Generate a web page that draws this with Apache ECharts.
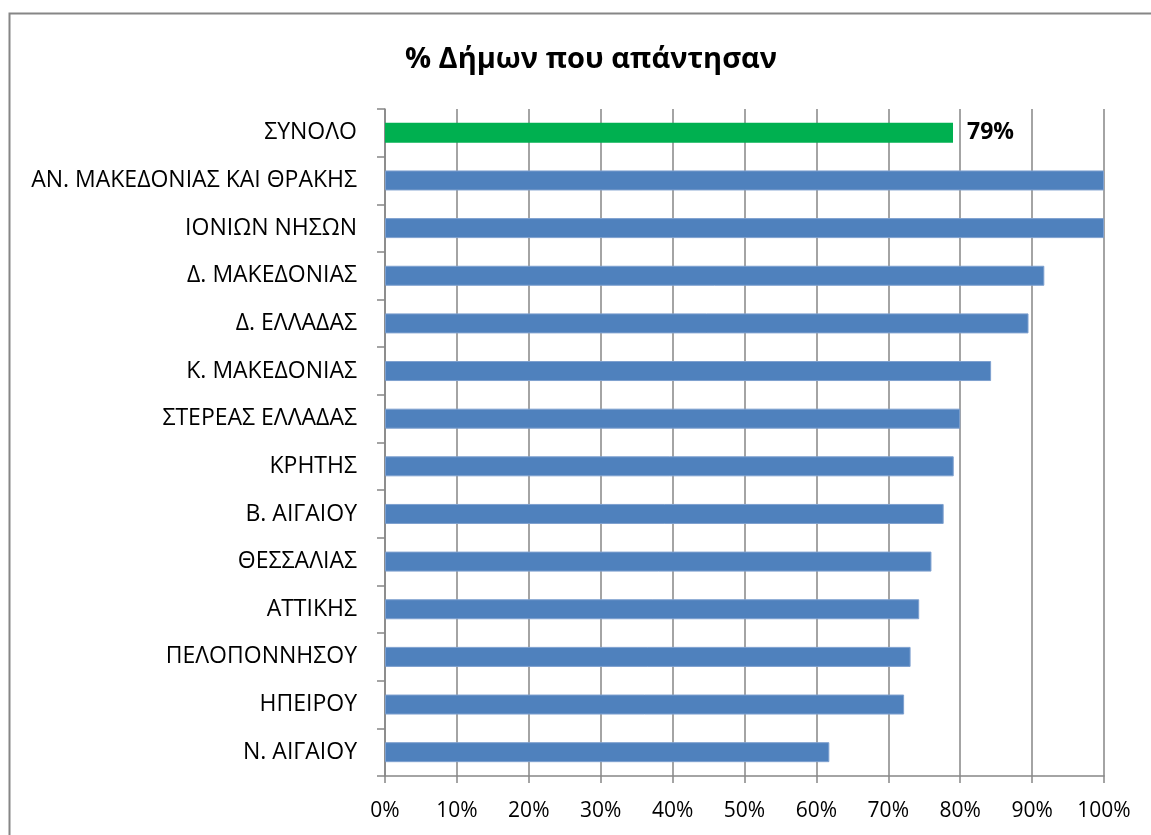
<!DOCTYPE html>
<html>
<head>
<meta charset="utf-8">
<script src="https://cdn.jsdelivr.net/npm/echarts@6/dist/echarts.min.js"></script>
<style>
html,body{margin:0;padding:0;background:#fff;}
#chart{width:1151px;height:835px;}
</style>
</head>
<body>
<div id="chart"></div>
<script>
const titleText = '% Δήμων που απάντησαν';
const categories = [
  'ΣΥΝΟΛΟ',
  'ΑΝ. ΜΑΚΕΔΟΝΙΑΣ ΚΑΙ ΘΡΑΚΗΣ',
  'ΙΟΝΙΩΝ ΝΗΣΩΝ',
  'Δ. ΜΑΚΕΔΟΝΙΑΣ',
  'Δ. ΕΛΛΑΔΑΣ',
  'Κ. ΜΑΚΕΔΟΝΙΑΣ',
  'ΣΤΕΡΕΑΣ ΕΛΛΑΔΑΣ',
  'ΚΡΗΤΗΣ',
  'Β. ΑΙΓΑΙΟΥ',
  'ΘΕΣΣΑΛΙΑΣ',
  'ΑΤΤΙΚΗΣ',
  'ΠΕΛΟΠΟΝΝΗΣΟΥ',
  'ΗΠΕΙΡΟΥ',
  'Ν. ΑΙΓΑΙΟΥ'
];
const values = [79.0, 100, 100, 91.7, 89.5, 84.3, 80.0, 79.1, 77.7, 76.0, 74.3, 73.1, 72.2, 61.8];
const totalIndex = 0;
const xTicks = [0, 10, 20, 30, 40, 50, 60, 70, 80, 90, 100];

const FONT = 'Open Sans';
const GRAY = '#868686';
const BLUE = '#4F81BD';
const GREEN = '#00B050';

const chart = echarts.init(document.getElementById('chart'), null, {renderer: 'canvas'});

const seriesData = values.map((v, i) => {
  if (i === totalIndex) {
    return {
      value: v,
      itemStyle: {color: GREEN, borderWidth: 0},
      label: {
        show: true, position: 'right', distance: 14,
        formatter: p => Math.round(p.value) + '%',
        fontFamily: FONT, fontWeight: 'bold', fontSize: 23, color: '#000'
      }
    };
  }
  return {value: v};
});

chart.setOption({
  backgroundColor: '#fff',
  animation: false,
  title: {
    text: titleText,
    left: 586, top: 40, textAlign: 'center',
    textStyle: {fontFamily: FONT, fontWeight: 'bold', fontSize: 29, color: '#000'}
  },
  graphic: [{
    type: 'rect',
    shape: {x: 9.5, y: 13.5, width: 1300, height: 1000},
    style: {fill: 'none', stroke: GRAY, lineWidth: 2},
    silent: true, z: 100
  }],
  grid: {left: 385, right: 47, top: 109, bottom: 59, containLabel: false},
  xAxis: {
    type: 'value', min: 0, max: 100, interval: 10,
    axisLine: {show: true, lineStyle: {color: GRAY, width: 1.5}},
    axisTick: {show: true, length: 7, lineStyle: {color: GRAY, width: 1.5}},
    splitLine: {show: true, lineStyle: {color: GRAY, width: 1.5}},
    axisLabel: {
      margin: 25, fontFamily: FONT, fontSize: 21, color: '#000',
      formatter: v => xTicks.includes(v) ? v + '%' : ''
    }
  },
  yAxis: {
    type: 'category', data: categories, inverse: true,
    axisLine: {show: true, lineStyle: {color: GRAY, width: 1.5}},
    axisTick: {show: true, length: 8, interval: 0, lineStyle: {color: GRAY, width: 1.5}},
    axisLabel: {margin: 28, fontFamily: FONT, fontSize: 23, color: '#000', interval: 0}
  },
  series: [{
    type: 'bar',
    data: seriesData,
    barWidth: 20,
    itemStyle: {color: BLUE, borderColor: '#7EA0CF', borderWidth: 1},
    z: 3
  }]
});
</script>
</body>
</html>
